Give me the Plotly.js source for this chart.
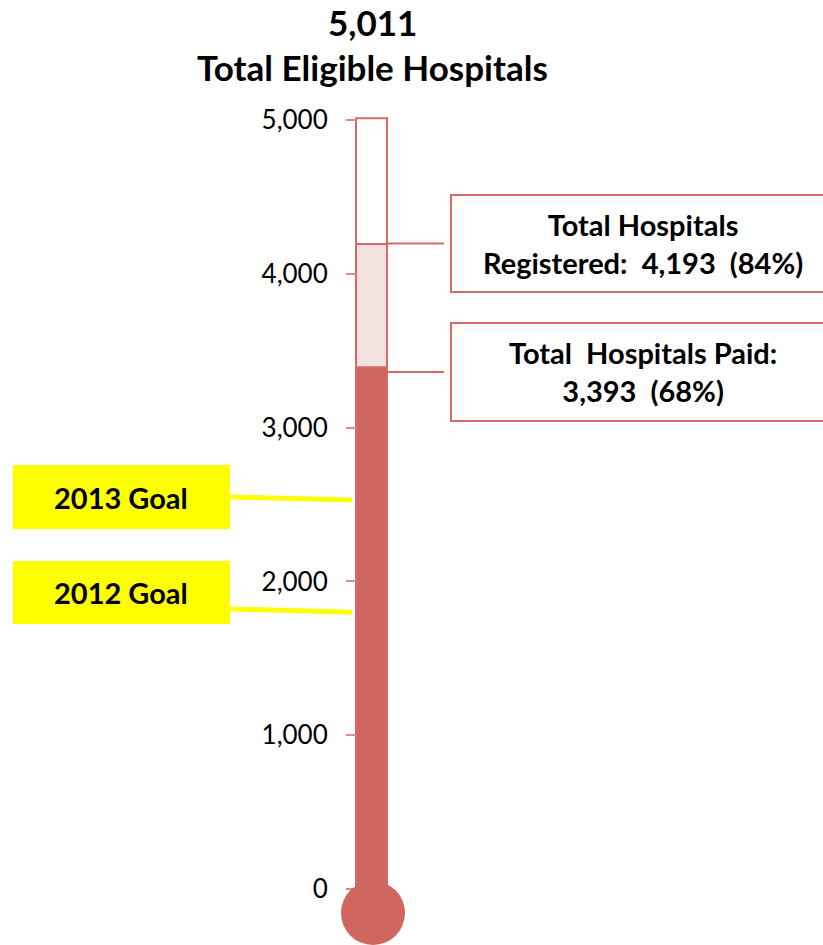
<!DOCTYPE html>
<html>
<head>
<meta charset="utf-8">
<script src="https://cdn.plot.ly/plotly-3.0.1.min.js"></script>
<style>html,body{margin:0;padding:0;background:#fff;}#chart{width:823px;height:945px;}</style>
</head>
<body>
<div id="chart"></div>
<script>
// ---- data ----
var totalEligible = 5011;
var totalRegistered = 4193;
var totalPaid = 3393;
var pctRegistered = 84;
var pctPaid = 68;
var goalLabels = ["2013 Goal", "2012 Goal"];
var goalValues = [2530, 1800];
var tickValues = [0, 1000, 2000, 3000, 4000, 5000];
var titleLines = [totalEligible.toLocaleString('en-US'), "Total Eligible Hospitals"];

// ---- geometry (pixel layout helpers) ----
var W = 823, H = 945;
var zeroPx = 889, topPx = 120;            // pixel rows of 0 and 5000
var scale = (zeroPx - topPx) / 5000;      // px per unit
var yMax = 5000 + topPx / scale;
var yMin = -(H - zeroPx) / scale;
function Y(py) { return (zeroPx - py) / scale; }
function PY(py) { return 1 - py / H; }

var tubeX = 371.5, tubeW = 31;
var red = '#cf6760', border = '#d46b66', pink = '#f4e2e0';

function fmt(n) { return n.toLocaleString('en-US'); }

var traces = [
  { type: 'bar', x: [tubeX], y: [totalPaid], base: [0], width: [tubeW],
    marker: { color: red, line: { color: border, width: 2 } }, hoverinfo: 'skip', showlegend: false },
  { type: 'bar', x: [tubeX], y: [totalRegistered - totalPaid], base: [totalPaid], width: [tubeW],
    marker: { color: pink, line: { color: border, width: 2 } }, hoverinfo: 'skip', showlegend: false },
  { type: 'bar', x: [tubeX], y: [totalEligible - totalRegistered], base: [totalRegistered], width: [tubeW],
    marker: { color: '#ffffff', line: { color: border, width: 2 } }, hoverinfo: 'skip', showlegend: false }
];

var boxes = [
  { top: 195, bot: 292, text: '<b>Total Hospitals<br>Registered:  ' + fmt(totalRegistered) + '  (' + pctRegistered + '%)</b>' },
  { top: 323, bot: 421, text: '<b>Total  Hospitals Paid:<br>' + fmt(totalPaid) + '  (' + pctPaid + '%)</b>' }
];
var goalBoxes = [ { top: 465, bot: 529, lineStart: 497 }, { top: 561, bot: 624, lineStart: 609 } ];

var shapes = [];
var annotations = [];

// bulb
shapes.push({ type: 'circle', xref: 'x', yref: 'y', x0: 341, x1: 405, y0: Y(945), y1: Y(881),
  fillcolor: red, line: { width: 0 }, layer: 'above' });

boxes.forEach(function (b) {
  var mid = (b.top + b.bot) / 2;
  shapes.push({ type: 'rect', xref: 'x', yref: 'y', x0: 451, x1: 836, y0: Y(b.bot), y1: Y(b.top),
    line: { color: border, width: 2 }, fillcolor: 'rgba(0,0,0,0)' });
  shapes.push({ type: 'line', xref: 'x', yref: 'y', x0: 387, x1: 444, y0: Y(mid), y1: Y(mid),
    line: { color: border, width: 2 } });
  annotations.push({ xref: 'paper', yref: 'paper', x: 643 / W, y: PY(mid), xanchor: 'center', yanchor: 'middle',
    text: b.text, showarrow: false, align: 'center',
    font: { family: 'Lato, sans-serif', size: 29, color: '#000' } });
});

goalBoxes.forEach(function (g, i) {
  shapes.push({ type: 'rect', xref: 'x', yref: 'y', x0: 13, x1: 230, y0: Y(g.bot), y1: Y(g.top),
    fillcolor: '#ffff00', line: { width: 0 } });
  shapes.push({ type: 'line', xref: 'x', yref: 'y', x0: 230, x1: 352, y0: Y(g.lineStart), y1: goalValues[i],
    line: { color: '#ffff00', width: 5 } });
  annotations.push({ xref: 'paper', yref: 'paper', x: 121.5 / W, y: PY((g.top + g.bot) / 2), xanchor: 'center', yanchor: 'middle',
    text: '<b>' + goalLabels[i] + '</b>', showarrow: false,
    font: { family: 'Lato, sans-serif', size: 29, color: '#000' } });
});

// title lines
[22, 67].forEach(function (py, i) {
  annotations.push({ xref: 'paper', yref: 'paper', x: 372.5 / W, y: PY(py), xanchor: 'center', yanchor: 'middle',
    text: '<b>' + titleLines[i] + '</b>', showarrow: false,
    font: { family: 'Lato, sans-serif', size: 35, color: '#000' } });
});

var layout = {
  width: W, height: H,
  margin: { l: 0, r: 0, t: 0, b: 0, pad: 0 },
  paper_bgcolor: '#fff', plot_bgcolor: '#fff',
  barmode: 'overlay',
  xaxis: { range: [0, W], visible: false, fixedrange: true },
  yaxis: { range: [yMin, yMax], anchor: 'free', position: 356 / W, side: 'left',
    tickvals: tickValues, ticktext: tickValues.map(fmt), ticks: 'outside', ticklen: 10, tickwidth: 2,
    tickcolor: '#dc8d88', showline: false, showgrid: false, zeroline: false, ticklabelstandoff: 13,
    tickfont: { family: 'Lato, sans-serif', size: 26, color: '#000' } },
  shapes: shapes,
  annotations: annotations,
  showlegend: false
};

Plotly.newPlot('chart', traces, layout, { displayModeBar: false, staticPlot: true });
</script>
</body>
</html>
